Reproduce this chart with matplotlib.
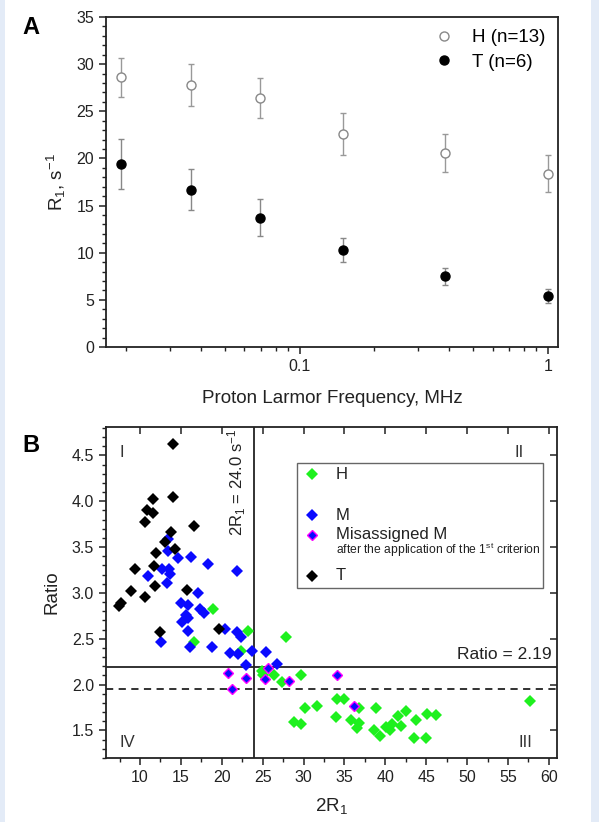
import matplotlib
matplotlib.use("Agg")
import matplotlib.pyplot as plt
from matplotlib.patches import Rectangle
from matplotlib.lines import Line2D
from matplotlib.ticker import MultipleLocator, FixedLocator, NullFormatter, FuncFormatter
import numpy as np

plt.rcParams['font.family'] = ['Liberation Sans', 'DejaVu Sans']
plt.rcParams['mathtext.fontset'] = 'custom'
plt.rcParams['mathtext.rm'] = 'Liberation Sans'
plt.rcParams['mathtext.it'] = 'Liberation Sans:italic'
plt.rcParams['mathtext.bf'] = 'Liberation Sans:bold'

# ---------------- Panel A data ----------------
freq = [0.0191, 0.0365, 0.0695, 0.15, 0.385, 1.0]
H_r1 = [28.6, 27.8, 26.4, 22.6, 20.6, 18.4]
H_err = [2.1, 2.2, 2.1, 2.2, 2.0, 2.0]
T_r1 = [19.4, 16.7, 13.7, 10.3, 7.5, 5.4]
T_err = [2.65, 2.2, 1.95, 1.25, 0.9, 0.7]

# ---------------- Panel B data ----------------
T_x = [14.0, 11.6, 14.0, 10.9, 11.6, 10.6, 16.6, 13.8, 13.0, 14.3, 12.0, 9.35,
       11.7, 11.8, 8.9, 10.6, 15.8, 7.7, 7.4, 12.4, 19.6]
T_y = [4.62, 4.02, 4.05, 3.91, 3.87, 3.77, 3.73, 3.67, 3.56, 3.48, 3.44, 3.26,
       3.29, 3.08, 3.02, 2.96, 3.03, 2.89, 2.86, 2.57, 2.61]

M_x = [13.45, 13.45, 12.75, 13.6, 13.7, 11.0, 13.35, 14.6, 16.25, 18.35, 21.9,
       17.1, 15.0, 15.9, 17.3, 17.8, 15.65, 15.9, 15.1, 15.9, 12.55, 16.1, 18.8,
       20.4, 21.9, 22.4, 20.95, 22.0, 23.7, 25.4, 23.0, 26.7]
M_y = [3.59, 3.46, 3.26, 3.26, 3.21, 3.18, 3.11, 3.38, 3.39, 3.32, 3.24,
       3.00, 2.89, 2.87, 2.82, 2.78, 2.76, 2.73, 2.68, 2.58, 2.46, 2.41, 2.41,
       2.61, 2.57, 2.52, 2.35, 2.33, 2.37, 2.36, 2.21, 2.22]

H_x = [18.95, 23.15, 27.9, 16.6, 22.35, 24.9, 25.0, 26.4, 27.4, 29.7, 30.2, 31.7,
       28.85, 29.7, 34.1, 35.0, 34.0, 35.8, 36.8, 36.5, 36.8, 38.9, 38.6, 39.4,
       40.1, 40.6, 40.8, 41.6, 42.55, 41.9, 43.8, 45.1, 46.2, 43.45, 45.0, 57.75]
H_y = [2.83, 2.59, 2.52, 2.47, 2.37, 2.15, 2.11, 2.11, 2.03, 2.10, 1.74, 1.77,
       1.59, 1.57, 1.84, 1.84, 1.65, 1.61, 1.74, 1.53, 1.58, 1.74, 1.50, 1.44,
       1.54, 1.51, 1.57, 1.66, 1.71, 1.55, 1.61, 1.68, 1.67, 1.42, 1.42, 1.82]

Mis_x = [20.8, 21.3, 23.0, 25.3, 25.7, 28.2, 34.1, 36.2]
Mis_y = [2.13, 1.95, 2.07, 2.06, 2.18, 2.04, 2.10, 1.77]

R1_cut = 24.0
ratio_cut = 2.19
ratio_dash = 1.95

GREEN = '#1ef01e'
BLUE = '#0a0aff'
MAG = '#ff00ff'

fig = plt.figure(figsize=(5.99, 8.22), dpi=100)
fig.patch.set_facecolor('white')
# light-blue border strips of the screenshot
fig.add_artist(Rectangle((0, 0), 5/599, 1, transform=fig.transFigure,
                         facecolor='#e3ebf7', edgecolor='none'))
fig.add_artist(Rectangle((591/599, 0), 8/599, 1, transform=fig.transFigure,
                         facecolor='#e3ebf7', edgecolor='none'))

SPINE = '#222222'

# ================= Panel A =================
axA = fig.add_axes([106/599, 1 - 347/822, 452/599, 330/822])
axA.set_xscale('log')
axA.errorbar(freq, H_r1, yerr=H_err, fmt='o', mfc='white', mec='#888888', mew=1.0,
             ms=6.5, ecolor='#999999', elinewidth=1.0, capsize=2.5, capthick=1.0,
             zorder=3)
axA.errorbar(freq, T_r1, yerr=T_err, fmt='o', mfc='black', mec='black', ms=6.5,
             ecolor='#888888', elinewidth=1.0, capsize=2.5, capthick=1.0,
             zorder=3)
axA.set_xlim(0.0166, 1.10)
axA.set_ylim(0, 35)
axA.yaxis.set_major_locator(MultipleLocator(5))
axA.yaxis.set_minor_locator(MultipleLocator(1))
axA.xaxis.set_major_locator(FixedLocator([0.1, 1]))
axA.xaxis.set_major_formatter(FuncFormatter(lambda v, p: '0.1' if v < 0.5 else '1'))
minors = [k * 10.0**e for e in (-2, -1, 0) for k in range(2, 10)]
axA.xaxis.set_minor_locator(FixedLocator(minors))
axA.xaxis.set_minor_formatter(NullFormatter())
axA.tick_params(which='major', direction='out', length=5, width=1.1, labelsize=11.5,
                colors=SPINE, labelcolor='#222222')
axA.tick_params(which='minor', direction='out', length=3, width=1.0, colors=SPINE)
for s in axA.spines.values():
    s.set_linewidth(1.3)
    s.set_color(SPINE)
axA.set_xlabel('Proton Larmor Frequency, MHz', fontsize=13.5, labelpad=12, color='#222222')
axA.set_ylabel('R$_1$, s$^{-1}$', fontsize=13.5, labelpad=6, color='#222222')
hA = [Line2D([], [], ls='none', marker='o', mfc='white', mec='#888888', mew=1.0, ms=6.5),
      Line2D([], [], ls='none', marker='o', mfc='black', mec='black', ms=6.5)]
axA.legend(hA, ['H (n=13)', 'T (n=6)'], loc='upper right', frameon=False, fontsize=13.5,
           handletextpad=0.9, borderaxespad=0.25, labelspacing=0.4, handlelength=1.2)
fig.text(31/599, 1 - 27/822, 'A', fontsize=17, fontweight='bold', ha='center', va='center')

# ================= Panel B =================
axB = fig.add_axes([106/599, 1 - 758/822, 451/599, 331/822])
ms = 5.8
axB.plot(H_x, H_y, 'D', color=GREEN, ms=ms, mew=0, zorder=3)
axB.plot(M_x, M_y, 'D', color=BLUE, ms=ms, mew=0, zorder=3)
axB.plot(T_x, T_y, 'D', color='black', ms=ms, mew=0, zorder=4)
axB.plot(Mis_x, Mis_y, 'D', mfc=BLUE, mec=MAG, ms=ms - 0.7, mew=1.0, zorder=4)
axB.axvline(R1_cut, color=SPINE, lw=1.3, zorder=2)
axB.axhline(ratio_cut, color=SPINE, lw=1.3, zorder=2)
axB.axhline(ratio_dash, color=SPINE, lw=1.3, ls=(0, (4, 3)), zorder=2)
axB.set_xlim(5.84, 61.0)
axB.set_ylim(1.2, 4.81)
axB.xaxis.set_major_locator(MultipleLocator(5))
axB.xaxis.set_minor_locator(MultipleLocator(2.5))
axB.yaxis.set_major_locator(MultipleLocator(0.5))
axB.yaxis.set_minor_locator(MultipleLocator(0.1))
axB.xaxis.set_major_formatter(FuncFormatter(lambda v, p: '%d' % v if v >= 10 else ''))
axB.yaxis.set_major_formatter(FuncFormatter(lambda v, p: '%.1f' % v))
axB.tick_params(which='major', direction='out', length=5, width=1.1, labelsize=11.5,
                colors=SPINE, labelcolor='#222222')
axB.tick_params(which='minor', direction='out', length=3, width=1.0, colors=SPINE)
for s in axB.spines.values():
    s.set_linewidth(1.3)
    s.set_color(SPINE)
# mirrored inward major ticks on top and right
axT = axB.secondary_xaxis('top')
axT.xaxis.set_major_locator(MultipleLocator(5))
axT.tick_params(direction='in', length=5, width=1.1, labeltop=False, colors=SPINE)
axT.spines['top'].set_visible(False)
axR = axB.secondary_yaxis('right')
axR.yaxis.set_major_locator(MultipleLocator(0.5))
axR.tick_params(direction='in', length=5, width=1.1, labelright=False, colors=SPINE)
axR.spines['right'].set_visible(False)

axB.set_xlabel('2R$_1$', fontsize=13.5, labelpad=8, color='#222222')
axB.set_ylabel('Ratio', fontsize=13.5, labelpad=8, color='#222222')

# quadrant labels
qkw = dict(transform=axB.transAxes, fontsize=12, color='#333333', va='center', ha='center')
axB.text(0.035, 0.922, 'I', **qkw)
axB.text(0.916, 0.922, 'II', **qkw)
axB.text(0.93, 0.046, 'III', **qkw)
axB.text(0.047, 0.046, 'IV', **qkw)

axB.text(23.2, 4.21, '2R$_1$ = 24.0 s$^{-1}$', rotation=90, fontsize=12, ha='right',
         va='center', color='#222222')
axB.text(60.3, 2.33, 'Ratio = 2.19', fontsize=12.5, ha='right', va='center', color='#222222')

# legend box
axB.add_patch(Rectangle((0.4235, 0.5136), 0.969 - 0.4235, 0.891 - 0.5136,
                        transform=axB.transAxes, facecolor='white', edgecolor='#666666',
                        lw=1.0, zorder=5))
lx, tx = 0.4568, 0.51
axB.plot([lx], [0.858], 'D', color=GREEN, ms=ms, mew=0, transform=axB.transAxes, zorder=6)
axB.plot([lx], [0.734], 'D', color=BLUE, ms=ms, mew=0, transform=axB.transAxes, zorder=6)
axB.plot([lx], [0.674], 'D', mfc=BLUE, mec=MAG, ms=ms - 0.7, mew=1.0,
         transform=axB.transAxes, zorder=6)
axB.plot([lx], [0.55], 'D', color='black', ms=ms, mew=0, transform=axB.transAxes, zorder=6)
lkw = dict(transform=axB.transAxes, fontsize=12, va='center', ha='left', color='#222222', zorder=6)
axB.text(tx, 0.858, 'H', **lkw)
axB.text(tx, 0.734, 'M', **lkw)
axB.text(tx, 0.676, 'Misassigned M', **lkw)
axB.text(tx, 0.63, 'after the application of the 1$^{\\mathrm{st}}$ criterion',
         transform=axB.transAxes, fontsize=8.7, va='center', ha='left', color='#222222', zorder=6)
axB.text(tx, 0.55, 'T', **lkw)

fig.text(31/599, 1 - 445/822, 'B', fontsize=17, fontweight='bold', ha='center', va='center')

fig.savefig('out.png', dpi=100, facecolor=fig.get_facecolor())
